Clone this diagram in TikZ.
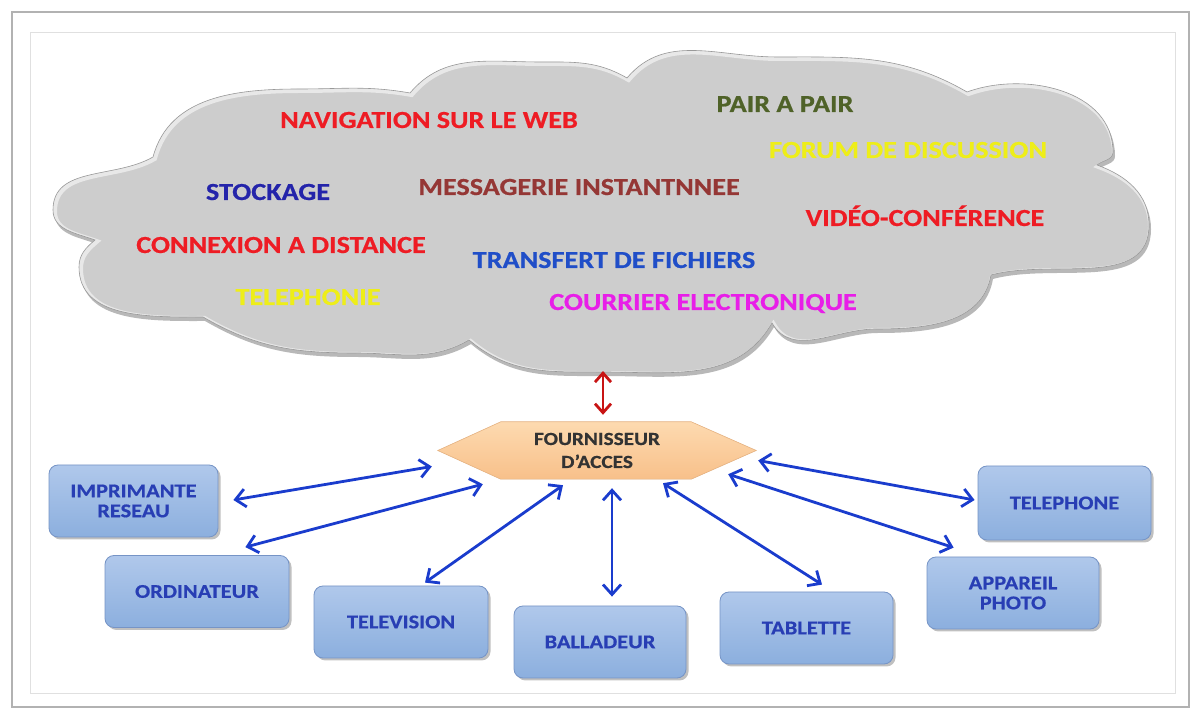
\documentclass[tikz,border=0pt]{standalone}
\usepackage{fontspec}
\setmainfont{Carlito}[FakeStretch=1.15, BoldFeatures={FakeBold=0.6}]
\usetikzlibrary{arrows.meta,shadows,calc}

\definecolor{cloudgray}{RGB}{205,205,205}
\definecolor{txtred}{RGB}{238,28,36}
\definecolor{txtolive}{RGB}{79,98,40}
\definecolor{txtyellow}{RGB}{238,238,24}
\definecolor{txtnavy}{RGB}{36,36,170}
\definecolor{txtbrown}{RGB}{149,55,53}
\definecolor{txtblue}{RGB}{32,78,200}
\definecolor{txtmagenta}{RGB}{232,30,232}
\definecolor{boxtop}{RGB}{176,200,235}
\definecolor{boxbot}{RGB}{140,175,222}
\definecolor{boxline}{RGB}{118,148,198}
\definecolor{boxtext}{RGB}{40,62,180}
\definecolor{hextop}{RGB}{253,218,176}
\definecolor{hexbot}{RGB}{248,192,138}
\definecolor{hexline}{RGB}{232,180,130}
\definecolor{linkblue}{RGB}{26,60,205}
\definecolor{linkred}{RGB}{200,20,20}

% outline of the cloud, one bump between each pair of notches
\newcommand\cloudoutline{(95,468) to[out=160,in=-90] (53,498) to[out=90,in=210] (153,551)
  to[out=75,in=180] (300,619) to[out=0,in=170] (410,615) to[out=50,in=180] (540,646)
  to[out=0,in=150] (627,630) to[out=50,in=180] (777,651) to[out=0,in=150] (967,616)
  to[out=20,in=90] (1113,556) to[out=-90,in=40] (1097,543) to[out=-20,in=90] (1149,483)
  to[out=-90,in=15] (991,433) to[out=-100,in=0] (876,379) to[out=180,in=-60] (772,385)
  to[out=-120,in=0] (602,336) to[out=180,in=-40] (469,368) to[out=-150,in=0] (355,355)
  to[out=180,in=-30] (203,391) to[out=180,in=-90] (79,441) to[out=90,in=220] cycle}

\tikzset{
  cloudtxt/.style={font=\bfseries\fontsize{24.5}{26}\selectfont, text height=16pt,
    text depth=0pt, inner sep=0pt},
  device/.style={rounded corners=9pt, draw=boxline, line width=0.8pt,
    top color=boxtop, bottom color=boxbot, text=boxtext,
    font=\bfseries\fontsize{19.5}{20}\selectfont, align=center,
    minimum height=72pt, inner sep=2pt,
    drop shadow={shadow xshift=2.5pt, shadow yshift=-2.5pt, opacity=0.35, fill=black!70}},
  link/.style={draw=linkblue, line width=2.8pt,
    {Straight Barb[length=10pt,width=18pt]}-{Straight Barb[length=10pt,width=18pt]}},
  uplink/.style={draw=linkred, line width=2.8pt,
    {Straight Barb[length=9pt,width=16pt]}-{Straight Barb[length=9pt,width=16pt]}},
}

\begin{document}
\begin{tikzpicture}[x=1pt,y=1pt]
\useasboundingbox (0,0) rectangle (1193,708);
\fill[white] (0,0) rectangle (1193,708);

% frames
\draw[black!30, line width=1.4pt] (12,1) rectangle (1189,696);
\draw[black!12, line width=0.8pt] (30,15) rectangle (1175,676);

% cloud with shadow and rim
\fill[black, opacity=0.28, shift={(2,-4)}] \cloudoutline;
\fill[cloudgray] \cloudoutline;
\begin{scope}
  \clip \cloudoutline;
  \draw[white, line width=5pt, opacity=0.55, shift={(1.5,-1.5)}] \cloudoutline;
\end{scope}
\draw[black!40, line width=0.6pt] \cloudoutline;

% services inside the cloud
\node[cloudtxt, text=txtred]     (nav)    at (429,588) {NAVIGATION SUR LE WEB};
\node[cloudtxt, text=txtolive]   (p2p)    at (785,604) {PAIR A PAIR};
\node[cloudtxt, text=txtyellow]  (forum)  at (908,558) {FORUM DE DISCUSSION};
\node[cloudtxt, text=txtnavy]    (stock)  at (268,516) {STOCKAGE};
\node[cloudtxt, text=txtbrown]   (msg)    at (579,521) {MESSAGERIE INSTANTNNEE};
\node[cloudtxt, text=txtred]     (video)  at (925,490) {VIDÉO-CONFÉRENCE};
\node[cloudtxt, text=txtred]     (remote) at (281,463) {CONNEXION A DISTANCE};
\node[cloudtxt, text=txtblue]    (ftp)    at (614,448) {TRANSFERT DE FICHIERS};
\node[cloudtxt, text=txtyellow]  (phony)  at (308,411) {TELEPHONIE};
\node[cloudtxt, text=txtmagenta] (mail)   at (703,406) {COURRIER ELECTRONIQUE};

% access provider
\node[minimum width=318pt, minimum height=57pt, inner sep=0pt] (isp) at (597,257.5) {};
\fill[black, opacity=0.25, shift={(2,-3)}]
  (isp.west) -- ($(isp.north west)+(63,0)$) -- ($(isp.north east)+(-65,0)$) -- (isp.east)
  -- ($(isp.south east)+(-65,0)$) -- ($(isp.south west)+(63,0)$) -- cycle;
\draw[top color=hextop, bottom color=hexbot, draw=hexline, line width=0.6pt]
  (isp.west) -- ($(isp.north west)+(63,0)$) -- ($(isp.north east)+(-65,0)$) -- (isp.east)
  -- ($(isp.south east)+(-65,0)$) -- ($(isp.south west)+(63,0)$) -- cycle;
\node[font=\bfseries\fontsize{18.5}{23}\selectfont, text=black!80, align=center]
  (isplabel) at (isp.center) {FOURNISSEUR\\D’ACCES};

% devices
\node[device, minimum width=169pt] (imp)  at (133.5,207)  {IMPRIMANTE\\RESEAU};
\node[device, minimum width=184pt] (ord)  at (197,116.5)  {ORDINATEUR};
\node[device, minimum width=174pt] (tv)   at (401,86)     {TELEVISION};
\node[device, minimum width=172pt] (bal)  at (600,66)     {BALLADEUR};
\node[device, minimum width=173pt] (tab)  at (806.5,80)   {TABLETTE};
\node[device, minimum width=172pt] (cam)  at (1013,115)   {APPAREIL\\PHOTO};
\node[device, minimum width=173pt, minimum height=74pt] (tel) at (1064.5,205) {TELEPHONE};

% links
\coordinate (cloudfoot) at (603,337);
\draw[uplink] (cloudfoot) -- ($(isp.north)+(6,7)$);
\draw[link] ($(imp.east)+(15,1)$) -- ($(isp.west)+(-6,-16)$);
\draw[link] ($(ord.north east)+(-44,8)$) -- ($(isp.south west)+(45,-5)$);
\draw[link] ($(tv.north)+(24,3)$) -- ($(isp.south)+(-34,-6)$);
\draw[link] ($(bal.north)+(12,9)$) -- ($(isp.south)+(15,-9)$);
\draw[link] ($(tab.north)+(15.5,7)$) -- ($(isp.south)+(66,-4)$);
\draw[link] ($(cam.north west)+(27,9)$) -- ($(isp.south east)+(-28,5)$);
\draw[link] ($(tel.west)+(-3,3)$) -- ($(isp.east)+(2,-10)$);
\end{tikzpicture}
\end{document}
